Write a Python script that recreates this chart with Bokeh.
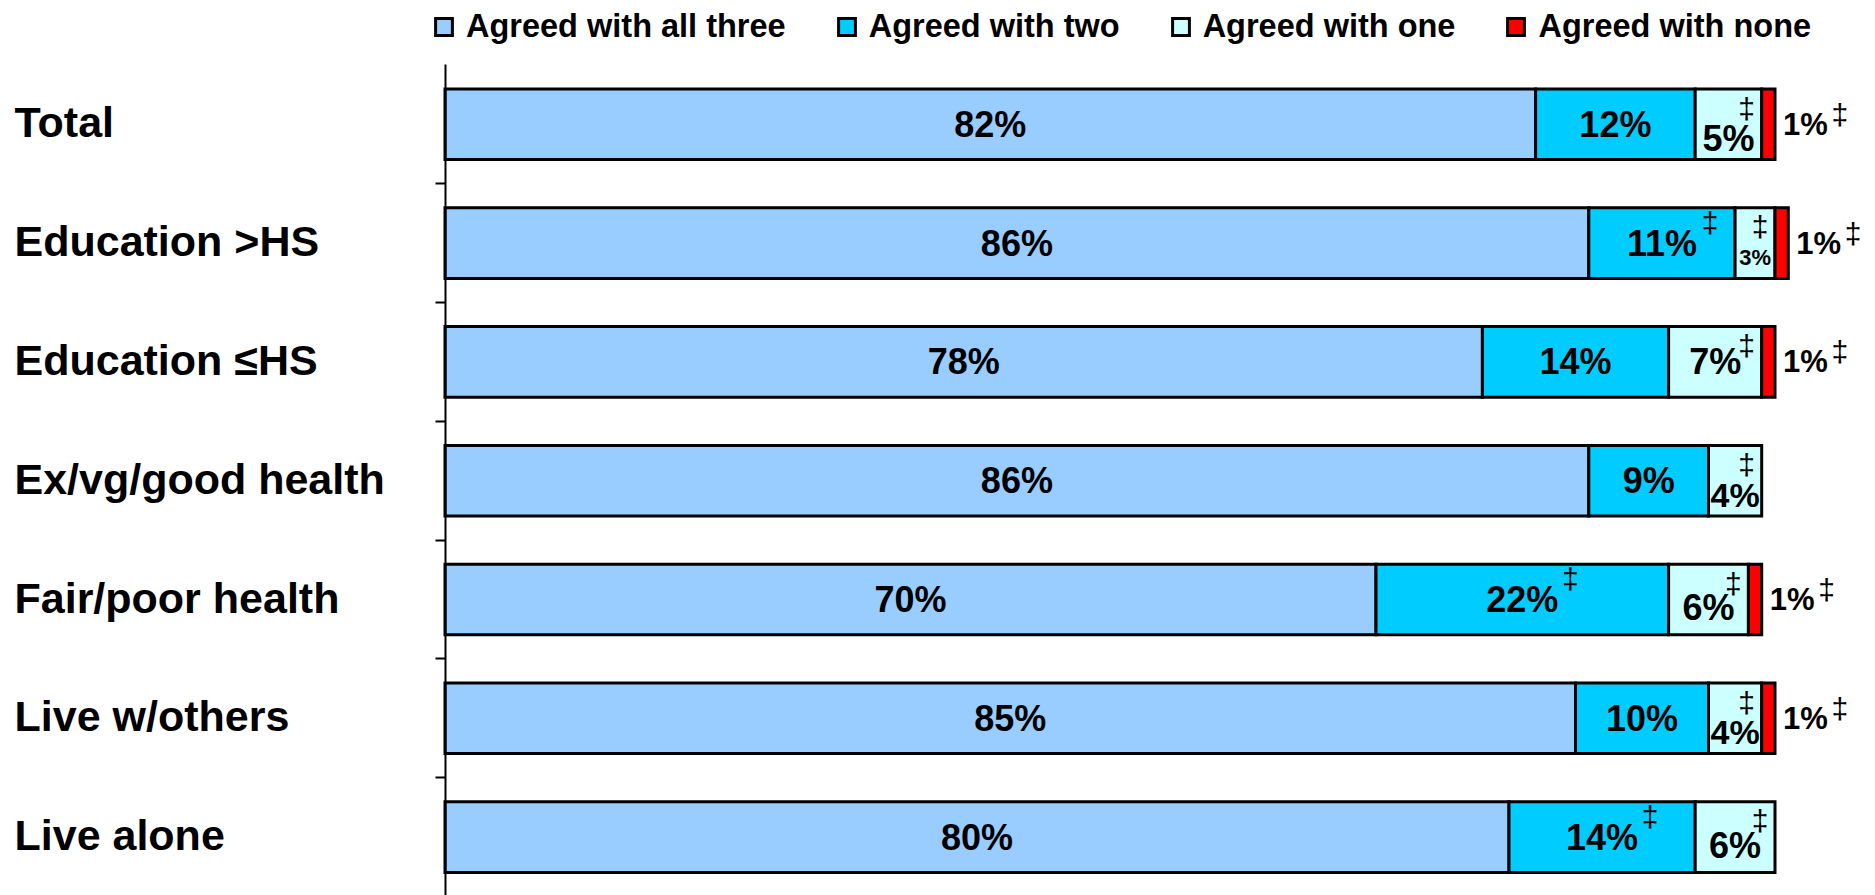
from bokeh.plotting import figure
from bokeh.models import (Range1d, ColumnDataSource, Legend, LegendItem, FixedTicker,
                          CustomJSTickFormatter)
from bokeh.core.properties import value
from bokeh.embed import file_html
from bokeh.resources import INLINE

# ---------------- data ----------------
categories = ["Total", "Education >HS", "Education \u2264HS", "Ex/vg/good health",
              "Fair/poor health", "Live w/others", "Live alone"]
series_names = ["Agreed with all three", "Agreed with two", "Agreed with one", "Agreed with none"]
all_three = [82, 86, 78, 86, 70, 85, 80]
with_two = [12, 11, 14, 9, 22, 10, 14]
with_one = [5, 3, 7, 4, 6, 4, 6]
with_none = [1, 1, 1, 0, 1, 1, 0]
# significance marker (double dagger) shown next to the value
flag_three = [0, 0, 0, 0, 0, 0, 0]
flag_two = [0, 1, 0, 0, 1, 0, 1]
flag_one = [1, 1, 1, 1, 1, 1, 1]
flag_none = [1, 1, 1, 0, 1, 1, 0]
colors = ["#99CCFF", "#00CCFF", "#CCFFFF", "#FF0000"]
MARK = "\u2021"

# ---------------- layout ----------------
W, H = 1875, 895
PX = 13.3          # pixels per percent
X0 = 444.5         # canvas x of 0 %
ROW = 118.8        # pixels per category row
Y0 = 123.8         # canvas y of first row centre
BAR_H = 0.594
FONT_NAME = "Liberation Sans"
FONT = value(FONT_NAME)
OUT_FS = 31

p = figure(width=W, height=H, output_backend="svg", toolbar_location=None,
           x_range=Range1d(-X0 / PX, (W - X0) / PX),
           y_range=Range1d((H - Y0) / ROW, -Y0 / ROW),
           min_border=0, x_axis_location=None, outline_line_color=None,
           background_fill_color="white", border_fill_color="white")
p.grid.visible = False

yax = p.yaxis[0]
yax.fixed_location = 0
yax.bounds = (-0.5, 7.0)
yax.ticker = FixedTicker(ticks=[i + 0.5 for i in range(len(categories) - 1)], minor_ticks=[])
yax.formatter = CustomJSTickFormatter(code="return ''")
yax.axis_line_color = "black"
yax.axis_line_width = 2
yax.major_tick_in = 0
yax.major_tick_out = 10
yax.major_tick_line_width = 2
yax.major_tick_line_color = "black"
yax.minor_tick_line_color = None

rows = list(range(len(categories)))
series = [all_three, with_two, with_one, with_none]
flags = [flag_three, flag_two, flag_one, flag_none]

lefts = [0.0] * len(categories)
renderers = []
label_x, label_y, label_t, label_fs = [], [], [], []
mark_x, mark_y = [], []
out_x, out_y, out_t = [], [], []
out_mark_x, out_mark_y = [], []

for si, (vals, flg, col) in enumerate(zip(series, flags, colors)):
    ys, ls, rs = [], [], []
    for i in rows:
        v = vals[i]
        l = lefts[i]
        r = l + v
        lefts[i] = r
        if v <= 0:
            continue
        ys.append(i)
        ls.append(l)
        rs.append(r)
        txt = f"{v}%"
        if si == 3:
            out_x.append(r + 8 / PX)
            out_y.append(i)
            out_t.append(txt)
            if flg[i]:
                tw = OUT_FS * (0.556 * len(str(v)) + 0.889)
                out_mark_x.append(r + (8 + tw + 12) / PX)
                out_mark_y.append(i - 10 / ROW)
            continue
        fs = 36 if v >= 5 else (34 if v == 4 else 22)
        off = 14 if v <= 5 else (8 if v == 6 else 0)
        label_x.append((l + r) / 2)
        label_y.append(i + off / ROW)
        label_t.append(txt)
        label_fs.append(f"{fs}px")
        if flg[i]:
            if v >= 9:
                tw = fs * (0.556 * len(str(v)) + 0.889)
                mark_x.append((l + r) / 2 + (tw / 2 + 12) / PX)
                mark_y.append(i - 21 / ROW)
            else:
                mark_x.append(r - 15 / PX)
                mark_y.append(i - BAR_H / 2 + 19 / ROW)
    src = ColumnDataSource(dict(y=ys, left=ls, right=rs))
    rr = p.hbar(y="y", left="left", right="right", height=BAR_H, source=src,
                fill_color=col, line_color="black", line_width=3, line_join="miter")
    renderers.append(rr)

# category labels
p.text(x=[(14 - X0) / PX] * len(categories), y=[r - 2 / ROW for r in rows], text=categories,
       text_font=FONT, text_font_style="bold", text_font_size="43px",
       text_align="left", text_baseline="middle", text_color="black")

# value labels inside bars
p.text(x="x", y="y", text="t", text_font_size="fs",
       source=ColumnDataSource(dict(x=label_x, y=label_y, t=label_t, fs=label_fs)),
       text_font=FONT, text_font_style="bold", text_align="center",
       text_baseline="middle", text_color="black")
p.text(x=mark_x, y=mark_y, text=[MARK] * len(mark_x), text_font=FONT,
       text_font_style="normal", text_font_size="30px", text_align="center",
       text_baseline="middle", text_color="black")

# labels outside bars
p.text(x=out_x, y=out_y, text=out_t, text_font=FONT, text_font_style="bold",
       text_font_size=f"{OUT_FS}px", text_align="left", text_baseline="middle",
       text_color="black")
p.text(x=out_mark_x, y=out_mark_y, text=[MARK] * len(out_mark_x), text_font=FONT,
       text_font_style="normal", text_font_size="30px", text_align="center",
       text_baseline="middle", text_color="black")

legend = Legend(items=[LegendItem(label=n, renderers=[r]) for n, r in zip(series_names, renderers)],
                orientation="horizontal", location=(433, 850),
                glyph_width=21, glyph_height=21, label_standoff=12, spacing=50,
                padding=0, margin=0, border_line_color=None, background_fill_alpha=0,
                label_text_font=FONT_NAME, label_text_font_style="bold",
                label_text_font_size="32.5px", label_text_color="black")
p.add_layout(legend)

open("out.html", "w").write(file_html(p, INLINE))
